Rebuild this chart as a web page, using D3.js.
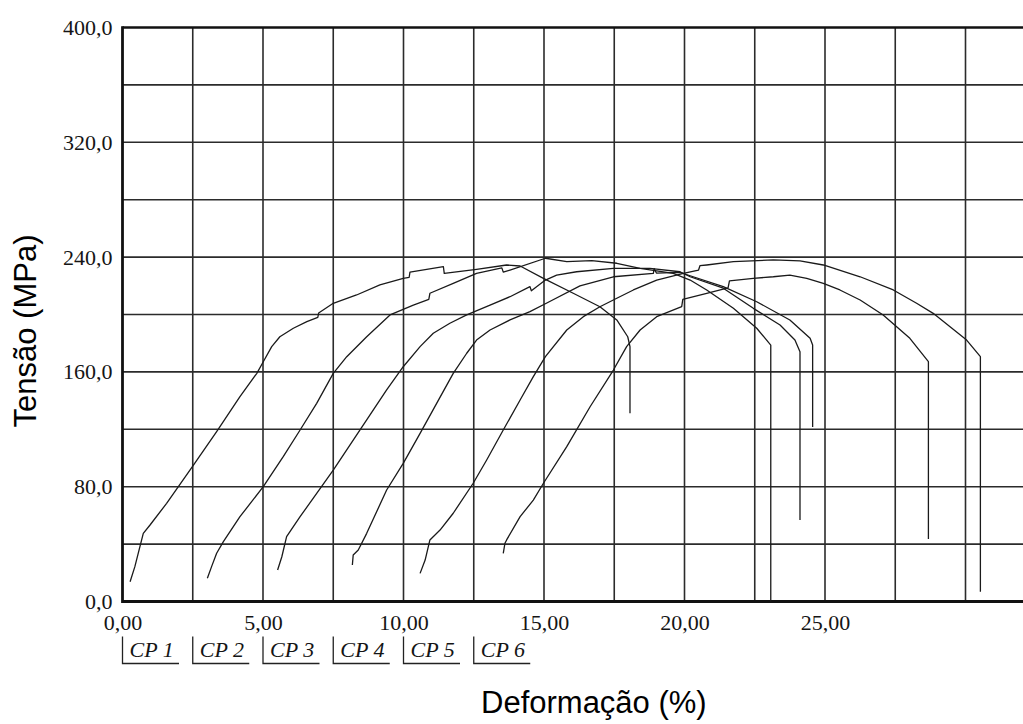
<!DOCTYPE html>
<html lang="pt">
<head>
<meta charset="utf-8">
<script src="https://cdn.jsdelivr.net/npm/d3@7"></script>
<style>
  html, body { margin: 0; padding: 0; background: #fff; }
  svg { display: block; }
  .tick-label { font-family: "Liberation Serif", "Times New Roman", serif; font-size: 22px; fill: #151515; }
  .cp-label { font-family: "Liberation Serif", "Times New Roman", serif; font-size: 22px; font-style: italic; fill: #151515; }
  .axis-title { font-family: "Liberation Sans", Arial, sans-serif; font-size: 31px; fill: #000; }
</style>
</head>
<body>
<svg id="chart" width="1023" height="724"></svg>
<script>
// Tensile test curves (strain %, stress MPa) for six specimens
const specimens = ["CP 1", "CP 2", "CP 3", "CP 4", "CP 5", "CP 6"];

const cp1 = [[0.27,13.8],[0.44,24.3],[0.62,38.2],[0.74,47.5],[0.98,53.3],[1.57,68.4],[2.50,94.4],[3.35,118.3],[4.18,142.7],[4.78,159.0],[5.01,167.1],[5.31,177.6],[5.60,184.5],[6.08,190.4],[6.56,195.0],[6.95,198.0],[6.98,201.0],[7.50,207.8],[8.33,213.6],[9.16,220.6],[9.99,225.2],[10.20,225.8],[10.23,229.5],[11.42,233.3],[11.45,228.7],[12.60,231.5],[13.67,234.5],[14.15,233.8],[14.98,225.2],[16.04,214.8],[16.99,205.4],[17.59,196.2],[17.98,184.5],[18.06,177.6],[18.06,131.1]];

const cp2 = [[3.02,16.2],[3.17,24.3],[3.35,33.6],[3.59,41.7],[4.18,59.1],[5.01,80.0],[5.72,100.9],[6.32,119.5],[6.91,138.1],[7.50,159.0],[7.98,170.6],[8.69,184.5],[9.52,199.7],[10.35,206.6],[10.90,210.5],[10.94,214.8],[11.77,221.7],[12.60,228.7],[13.50,232.5],[13.55,229.5],[13.79,231.0],[15.05,239.2],[15.81,236.8],[16.70,237.5],[17.59,235.7],[18.42,232.2],[19.60,228.7],[20.20,224.0],[20.79,217.1],[21.74,204.3],[22.57,190.4],[23.07,178.7],[23.07,0]];

const cp3 = [[5.52,22.0],[5.67,31.2],[5.84,45.2],[6.32,59.1],[7.50,91.6],[8.69,126.5],[9.40,147.4],[9.99,163.6],[10.59,177.6],[11.06,186.9],[11.65,193.9],[12.25,199.7],[13.08,206.6],[13.79,212.4],[14.50,219.4],[14.55,216.5],[15.05,224.0],[15.45,227.5],[16.16,229.8],[17.47,232.2],[18.77,232.2],[19.84,229.8],[20.20,226.3],[21.38,218.3],[22.45,204.3],[23.40,192.7],[23.93,182.2],[24.11,174.1],[24.11,56.8]];

const cp4 = [[8.18,25.4],[8.21,32.4],[8.39,35.9],[8.69,47.5],[9.40,77.7],[9.99,96.3],[10.59,117.2],[11.18,138.1],[11.77,159.0],[12.25,173.0],[12.60,182.2],[13.08,189.2],[13.79,196.2],[14.50,202.0],[15.10,208.0],[16.28,220.0],[17.47,226.3],[18.89,228.7],[18.92,232.0],[19.00,228.9],[19.84,229.3],[20.20,227.0],[21.38,219.4],[22.57,208.9],[23.75,196.2],[24.47,183.4],[24.56,178.7],[24.56,121.6]];

const cp5 = [[10.59,19.6],[10.77,28.9],[10.94,42.9],[11.30,49.8],[11.77,61.5],[12.48,82.4],[12.96,98.6],[13.55,119.5],[14.15,140.4],[14.62,156.7],[15.05,170.6],[15.81,189.2],[16.40,198.5],[16.99,205.4],[17.59,211.3],[18.18,217.1],[19.01,224.0],[19.96,228.7],[20.50,231.0],[20.55,234.0],[20.79,234.5],[21.74,236.8],[23.16,238.0],[24.11,237.3],[24.94,234.5],[26.25,226.3],[27.43,217.1],[28.26,207.8],[28.85,200.8],[29.45,191.5],[30.04,182.2],[30.53,170.6],[30.53,6.8]];

const cp6 = [[13.55,33.6],[13.61,40.6],[13.67,42.9],[14.15,59.1],[14.62,70.7],[14.98,82.4],[15.81,107.9],[16.64,135.7],[17.47,161.3],[17.94,177.6],[18.42,189.2],[19.01,198.5],[19.90,205.5],[19.94,210.5],[20.79,214.8],[21.55,218.5],[21.60,223.5],[22.45,225.2],[23.16,226.3],[23.75,227.5],[24.35,225.2],[24.94,221.7],[25.53,217.1],[26.25,210.1],[27.07,199.7],[28.02,183.4],[28.68,167.1],[28.68,43.6]];

const curves = [cp1, cp2, cp3, cp4, cp5, cp6];

const strainTicks = [0, 5, 10, 15, 20, 25];
const stressTicks = [0, 80, 160, 240, 320, 400];

const svg = d3.select("#chart");
const W = 1023, H = 724;
const plotLeft = 122.5, plotTop = 27.5, plotBottom = 601.5;

// 2.5 % of strain spans 70.25 px
const x = d3.scaleLinear().domain([0, 32.5]).range([plotLeft, plotLeft + 32.5 * 28.1]);
const y = d3.scaleLinear().domain([0, 400]).range([plotBottom, plotTop]);

const fmt = d3.formatLocale({ decimal: ",", thousands: ".", grouping: [3], currency: ["R$", ""] });

svg.append("rect").attr("width", W).attr("height", H).attr("fill", "#fff");

// grid
const grid = svg.append("g");
grid.selectAll("line.vg").data(d3.range(2.5, 31, 2.5)).join("line")
  .attr("class", "vg")
  .attr("x1", d => x(d)).attr("x2", d => x(d))
  .attr("y1", plotTop).attr("y2", plotBottom)
  .attr("stroke", "#2b2b2b").attr("stroke-width", 1.6);
grid.selectAll("line.hg").data(d3.range(40, 400, 40)).join("line")
  .attr("class", "hg")
  .attr("x1", plotLeft).attr("x2", W)
  .attr("y1", d => y(d)).attr("y2", d => y(d))
  .attr("stroke", "#2b2b2b").attr("stroke-width", 1.6);

// frame: left, bottom and top border
svg.append("line").attr("x1", plotLeft).attr("x2", W).attr("y1", plotTop).attr("y2", plotTop)
  .attr("stroke", "#111").attr("stroke-width", 2.6);
svg.append("line").attr("x1", plotLeft).attr("x2", W).attr("y1", plotBottom).attr("y2", plotBottom)
  .attr("stroke", "#111").attr("stroke-width", 2.8);
svg.append("line").attr("x1", plotLeft).attr("x2", plotLeft).attr("y1", plotTop - 1.3).attr("y2", plotBottom + 1.4)
  .attr("stroke", "#111").attr("stroke-width", 2.8);

// axes labels
const yAxis = d3.axisLeft(y).tickValues(stressTicks).tickSize(0).tickPadding(10)
  .tickFormat(fmt.format(".1f"));
const ya = svg.append("g").attr("transform", `translate(${plotLeft},0)`).call(yAxis);
ya.select(".domain").remove();
ya.attr("font-family", null).attr("font-size", null);
ya.selectAll("text").attr("class", "tick-label").attr("fill", null);

const xAxis = d3.axisBottom(x).tickValues(strainTicks).tickSize(0).tickPadding(13)
  .tickFormat(fmt.format(".2f"));
const xa = svg.append("g").attr("transform", `translate(0,${plotBottom})`).call(xAxis);
xa.select(".domain").remove();
xa.attr("font-family", null).attr("font-size", null);
xa.selectAll("text").attr("class", "tick-label").attr("fill", null);

// specimen tags under the axis
const tags = svg.append("g").selectAll("g").data(specimens).join("g")
  .attr("transform", (d, i) => `translate(${x(i * 2.5)},0)`);
tags.append("path")
  .attr("d", "M0,636.5V663.5H56.5")
  .attr("fill", "none").attr("stroke", "#222").attr("stroke-width", 1.3);
tags.append("text").attr("class", "cp-label")
  .attr("x", 7).attr("y", 657).text(d => d);

// curves
const line = d3.line().x(d => x(d[0])).y(d => y(d[1]));
svg.append("g").selectAll("path").data(curves).join("path")
  .attr("d", line)
  .attr("fill", "none").attr("stroke", "#1a1a1a").attr("stroke-width", 1.3)
  .attr("stroke-linejoin", "round");

// axis titles
svg.append("text").attr("class", "axis-title")
  .attr("x", 481).attr("y", 713).text("Deformação (%)");
svg.append("text").attr("class", "axis-title")
  .attr("transform", "translate(36,331) rotate(-90)")
  .attr("text-anchor", "middle").text("Tensão (MPa)");
</script>
</body>
</html>
